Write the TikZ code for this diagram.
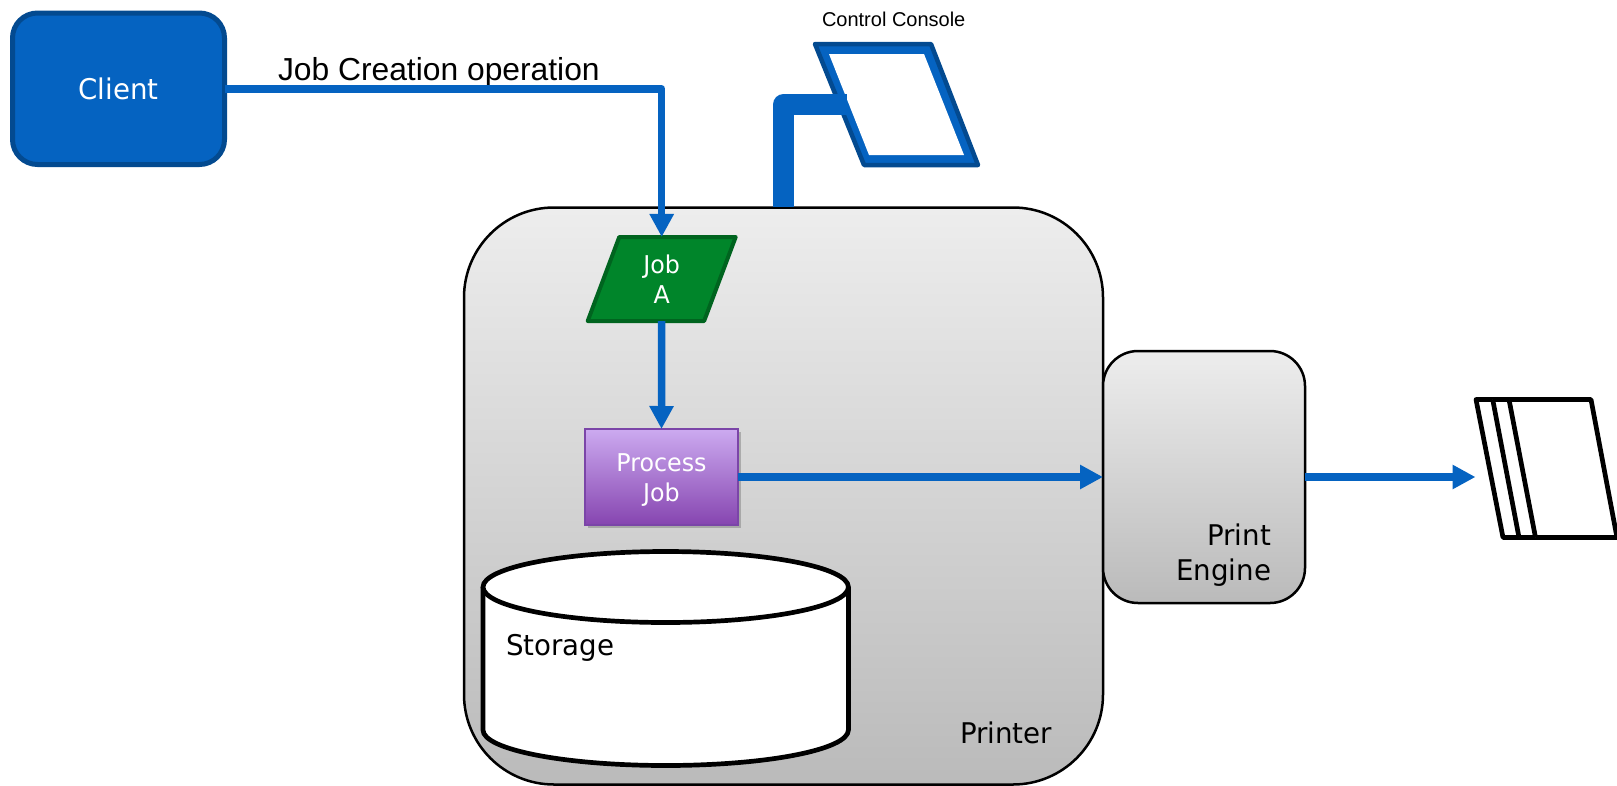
\documentclass[tikz,border=0pt]{standalone}
\usepackage{fontspec}
\usetikzlibrary{arrows.meta,shapes.geometric,shadows}
\setmainfont{Liberation Sans}
\newfontfamily\boxfont[FakeStretch=0.97]{DejaVu Sans}
\definecolor{flowblue}{HTML}{0563C1}
\definecolor{flowdark}{HTML}{034A90}
\definecolor{jobgreen}{HTML}{00852A}
\definecolor{jobdark}{HTML}{00641F}
\begin{document}
\begin{tikzpicture}[x=1pt,y=-1pt]
\tikzstyle{every node}+=[inner sep=0pt,outer sep=0pt]
\tikzstyle{bigbox}=[rectangle,draw=black,line width=2.5pt,top color=black!7,bottom color=black!27]
\tikzstyle{bigtext}=[font=\boxfont\fontsize{28.5}{35}\selectfont,text=black]
\tikzstyle{smalltext}=[font=\boxfont\fontsize{24.5}{30}\selectfont,text=white,align=center]
\tikzstyle{flowline}=[draw=flowblue,line width=7.5pt,line join=round,-{Triangle[length=23pt,width=23pt]}]
\tikzstyle{sheet}=[draw=black,line width=4.7pt,line join=round,fill=white]
\useasboundingbox (0,0) rectangle (1617,785);
\node (printer) [bigbox,rounded corners=90,minimum width=639,minimum height=577] at (783.5,496) {};
\node (engine) [bigbox,rounded corners=35,minimum width=202,minimum height=252] at (1204,477) {};
\node (client) [draw=flowdark,line width=5pt,fill=flowblue,rounded corners=25,minimum width=212,minimum height=151.5,font=\boxfont\fontsize{28.5}{35}\selectfont,text=white] at (118.5,88.75) {Client};
\node (joba) [trapezium,trapezium left angle=57,trapezium right angle=123,trapezium stretches body,draw=jobdark,line width=4pt,line join=round,fill=jobgreen,minimum width=148,minimum height=84,smalltext] at (661.7,279) {Job\\A};
\node (process) [draw={rgb,255:red,123;green,69;blue,168},line width=2.5pt,top color={rgb,255:red,204;green,170;blue,240},bottom color={rgb,255:red,134;green,69;blue,176},drop shadow={shadow xshift=3pt,shadow yshift=-3pt,opacity=0.5},minimum width=153,minimum height=96] at (661.5,477) {};
\node (processlabel) [smalltext] at (661.5,480.5) {Process\\Job};
\fill [white] (483,587) rectangle (848.4,730);
\draw [black,line width=4.7pt,fill=white] (483,587) -- (483,730) arc [start angle=180,end angle=360,x radius=182.7pt,y radius=35.5pt] -- (848.4,587);
\draw [black,line width=4.7pt,fill=white] (665.7,587) ellipse [x radius=182.7pt,y radius=35.5pt];
\node (storagelabel) [bigtext,anchor=base west] at (506,655) {Storage};
\node (printerlabel) [bigtext,anchor=base east] at (1052,743) {Printer};
\node (enginelabel) [bigtext,anchor=base east] at (1271,545.7) {Print};
\node (enginelabel2) [bigtext,anchor=base east] at (1271,580.7) {Engine};
\node (joblabel) [anchor=base west,font=\fontsize{31.8}{36}\selectfont] at (278,80.7) {Job Creation operation};
\node (consolelabel) [anchor=base,font=\fontsize{20}{25}\selectfont] at (893.7,26) {Control Console};
\draw [draw=flowdark,line width=4.5pt,line join=round,fill=flowblue] (815,44) -- (931,44) -- (978,165) -- (864,165) -- cycle;
\fill [white] (829,54) -- (924,54) -- (964,155) -- (869,155) -- cycle;
\coordinate (standfoot) at (783.5,207);
\coordinate (standarm) at (847,104.5);
\draw [flowblue,line width=21pt,line join=round] (standfoot) |- (standarm);
\draw [sheet] (1476,399.5) -- (1591,399.5) -- (1617,537.5) -- (1503,537.5) -- cycle;
\draw [sheet] (1492.7,399.5) -- (1519,537.5);
\draw [sheet] (1509,399.5) -- (1535.5,537.5);
\coordinate (paperin) at (1475.5,477);
\draw [flowline] (client.east) -| (joba.north);
\draw [flowline] (joba.south) -- (process.north);
\draw [flowline] (process.east) -- (engine.west);
\draw [flowline] (engine.east) -- (paperin);
\end{tikzpicture}
\end{document}
